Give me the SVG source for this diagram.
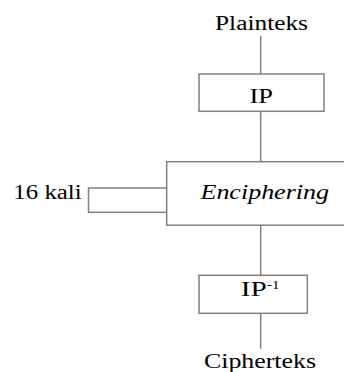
<svg xmlns="http://www.w3.org/2000/svg" width="344" height="372" viewBox="0 0 344 372">
<style>
.box{fill:#fff;stroke:#808080;stroke-width:1.5}
.ln{stroke:#808080;stroke-width:1.5;fill:none}
.t{font-family:"Liberation Serif","Times New Roman",serif;font-size:20px;fill:#000}
.sup{font-family:"Liberation Serif","Times New Roman",serif;font-size:13px;fill:#000}
</style>
<rect width="344" height="372" fill="#fff"/>
<g id="connectors">
<line class="ln" x1="260.7" y1="36" x2="260.7" y2="74"/>
<line class="ln" x1="260.7" y1="111.3" x2="260.7" y2="162"/>
<line class="ln" x1="260.7" y1="225" x2="260.7" y2="275.3"/>
<line class="ln" x1="260.7" y1="313.3" x2="260.7" y2="348.7"/>
</g>
<g id="plainteks">
<text class="t" x="215" y="29.5" textLength="93" lengthAdjust="spacingAndGlyphs">Plainteks</text>
</g>
<g id="ip">
<rect class="box" x="199" y="74" width="125" height="37.3"/>
<text class="t" x="249.5" y="102.7" textLength="23.5" lengthAdjust="spacingAndGlyphs">IP</text>
</g>
<g id="loop">
<rect class="box" x="88.5" y="188" width="78.2" height="24.3"/>
<text class="t" x="13.3" y="198.7" textLength="68.4" lengthAdjust="spacingAndGlyphs">16 kali</text>
</g>
<g id="enciphering">
<rect class="box" x="166.7" y="161.7" width="190" height="63.5"/>
<text class="t" x="200.5" y="199" font-style="italic" textLength="128.5" lengthAdjust="spacingAndGlyphs">Enciphering</text>
</g>
<g id="ip-inverse">
<rect class="box" x="199" y="275.3" width="108.3" height="38"/>
<text class="t" x="240.7" y="295.5" textLength="26" lengthAdjust="spacingAndGlyphs">IP</text>
<text class="sup" x="267" y="289" textLength="12.5" lengthAdjust="spacingAndGlyphs">-1</text>
</g>
<g id="cipherteks">
<text class="t" x="204" y="367.5" textLength="112" lengthAdjust="spacingAndGlyphs">Cipherteks</text>
</g>
</svg>
